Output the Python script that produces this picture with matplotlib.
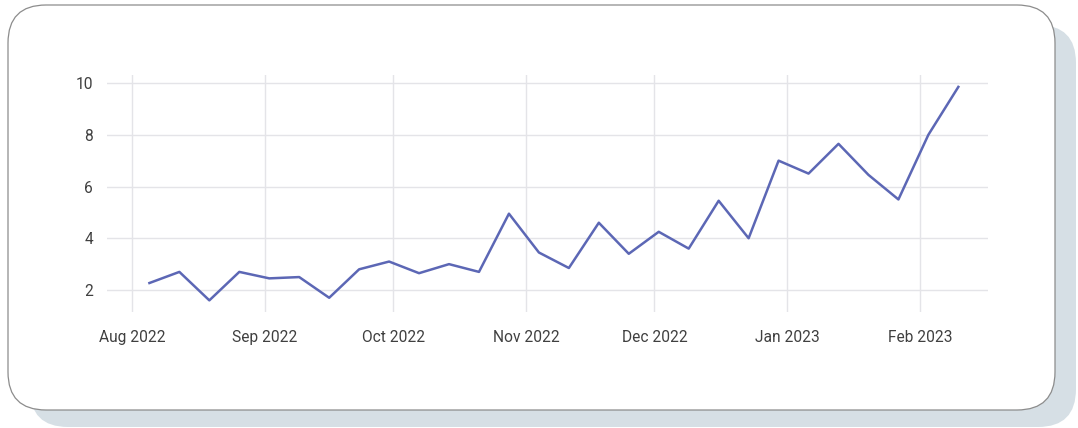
import matplotlib
matplotlib.use("Agg")
import matplotlib.pyplot as plt
import matplotlib.dates as mdates
import matplotlib.patches as mpatches
from matplotlib.transforms import IdentityTransform
import datetime as dt

# weekly values, first point on 5 Aug 2022
start = dt.date(2022, 8, 5)
values = [2.27, 2.7, 1.6, 2.7, 2.45, 2.5, 1.7, 2.8, 3.1, 2.65, 3.0, 2.7, 4.95, 3.45,
          2.85, 4.6, 3.4, 4.25, 3.6, 5.45, 4.0, 7.0, 6.5, 7.65, 6.45, 5.5, 8.0, 9.85]
dates = [start + dt.timedelta(weeks=i) for i in range(len(values))]
month_ticks = [dt.date(2022, 8, 1), dt.date(2022, 9, 1), dt.date(2022, 10, 1), dt.date(2022, 11, 1),
               dt.date(2022, 12, 1), dt.date(2023, 1, 1), dt.date(2023, 2, 1)]
y_ticks = [2, 4, 6, 8, 10]

plt.rcParams['font.family'] = ['Roboto', 'DejaVu Sans']

W, H = 1078, 428
fig = plt.figure(figsize=(W / 100, H / 100), dpi=100)
fig.patch.set_facecolor('white')

# card shadow and card (pixel coordinates, origin bottom-left)
shadow = mpatches.FancyBboxPatch((30, H - 427), 1046, 402,
                                 boxstyle="round,pad=0,rounding_size=38",
                                 transform=IdentityTransform(), facecolor='#d6dfe5',
                                 edgecolor='none', zorder=-3)
card = mpatches.FancyBboxPatch((8, H - 410), 1047, 405,
                               boxstyle="round,pad=0,rounding_size=38",
                               transform=IdentityTransform(), facecolor='white',
                               edgecolor='#8c8c8c', linewidth=0.9, zorder=-2)
fig.add_artist(shadow)
fig.add_artist(card)

ax = fig.add_axes([107 / W, (H - 312) / H, (988 - 107) / W, (312 - 75) / H])
ax.set_facecolor('none')
ax.plot(dates, values, color='#5c67b5', linewidth=1.8, zorder=3)

aug1 = mdates.date2num(dt.date(2022, 8, 1))
px_per_day = 4.28
ax.set_xlim(aug1 - (132.3 - 107) / px_per_day, aug1 + (988 - 132.3) / px_per_day)
ax.set_ylim(1.15, 10.31)
ax.set_xticks(month_ticks)
ax.xaxis.set_major_formatter(mdates.DateFormatter('%b %Y'))
ax.set_yticks(y_ticks)

ax.grid(True, color='#e4e4e8', linewidth=1.0)
for s in ax.spines.values():
    s.set_visible(False)
ax.tick_params(length=0, labelsize=11.2, labelcolor='#404040')
ax.tick_params(axis='x', pad=13)
ax.tick_params(axis='y', pad=10)

fig.savefig('out.png', dpi=100)
